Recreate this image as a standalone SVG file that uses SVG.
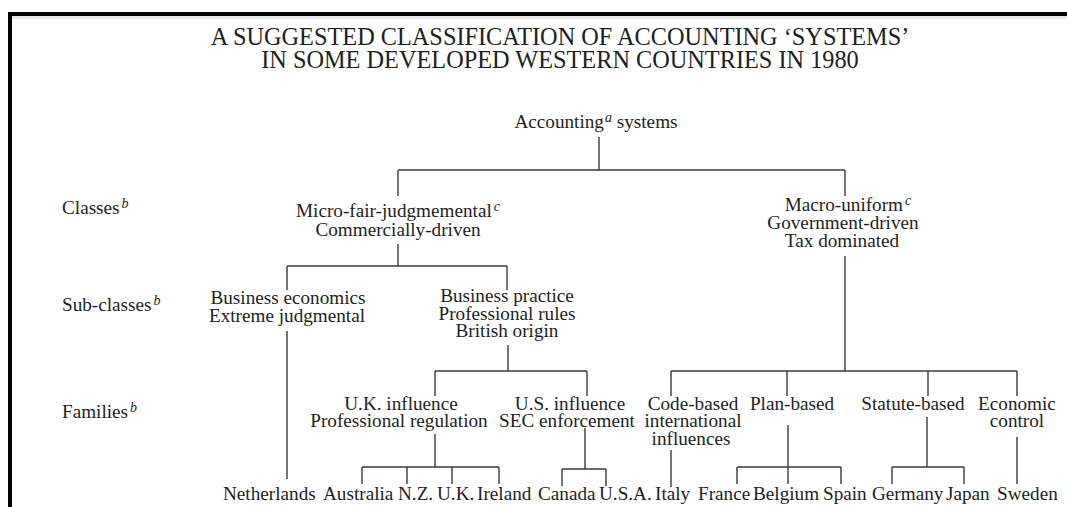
<svg xmlns="http://www.w3.org/2000/svg" width="1067" height="507" viewBox="0 0 1067 507">
  <style>
    text { font-family: "Liberation Serif", "Times New Roman", serif; fill: #1e1e1e; }
    .title { font-size: 24.3px; text-anchor: middle; }
    .t { font-size: 19.2px; text-anchor: middle; }
    .c { font-size: 19.2px; text-anchor: start; }
    .lab { font-size: 19.2px; text-anchor: start; }
    .sup { font-size: 14px; font-style: italic; }
    .conn line { stroke: #3a3a3a; stroke-width: 1.4; fill: none; }
  </style>

  <rect x="0" y="0" width="1067" height="507" fill="#ffffff"/>

  <!-- page frame -->
  <g id="frame">
    <line x1="12" y1="17.5" x2="1067" y2="17.5" stroke="#e6e6e6" stroke-width="3"/>
    <path d="M10,507 V14 H1067" fill="none" stroke="#000" stroke-width="4"/>
  </g>

  <g id="title">
    <text class="title" x="560" y="45">A SUGGESTED CLASSIFICATION OF ACCOUNTING ‘SYSTEMS’</text>
    <text class="title" x="560" y="68">IN SOME DEVELOPED WESTERN COUNTRIES IN 1980</text>
  </g>

  <!-- level labels -->
  <g id="level-labels">
    <text class="lab" x="62" y="214">Classes<tspan class="sup" dx="2" dy="-6">b</tspan></text>
    <text class="lab" x="62" y="311">Sub-classes<tspan class="sup" dx="2" dy="-6">b</tspan></text>
    <text class="lab" x="62" y="418">Families<tspan class="sup" dx="2" dy="-6">b</tspan></text>
  </g>

  <!-- connectors -->
  <g id="connectors" class="conn">
    <!-- root to classes -->
    <line x1="599" y1="137" x2="599" y2="170"/>
    <line x1="398" y1="170" x2="845" y2="170"/>
    <line x1="398" y1="170" x2="398" y2="196"/>
    <line x1="845" y1="170" x2="845" y2="196"/>
    <!-- micro to sub-classes -->
    <line x1="398" y1="244" x2="398" y2="266"/>
    <line x1="287" y1="266" x2="507" y2="266"/>
    <line x1="287" y1="266" x2="287" y2="290"/>
    <line x1="507" y1="266" x2="507" y2="290"/>
    <!-- business economics to Netherlands -->
    <line x1="287" y1="331" x2="287" y2="479"/>
    <!-- business practice to families -->
    <line x1="508" y1="345" x2="508" y2="371"/>
    <line x1="435" y1="371" x2="587" y2="371"/>
    <line x1="435" y1="371" x2="435" y2="396"/>
    <line x1="587" y1="371" x2="587" y2="396"/>
    <!-- macro to families -->
    <line x1="845" y1="256" x2="845" y2="371"/>
    <line x1="671" y1="371" x2="1017" y2="371"/>
    <line x1="671" y1="371" x2="671" y2="396"/>
    <line x1="787" y1="371" x2="787" y2="396"/>
    <line x1="928" y1="371" x2="928" y2="396"/>
    <line x1="1017" y1="371" x2="1017" y2="396"/>
    <!-- U.K. influence -->
    <line x1="435" y1="434" x2="435" y2="467"/>
    <line x1="362" y1="467" x2="499" y2="467"/>
    <line x1="362" y1="467" x2="362" y2="484"/>
    <line x1="407" y1="467" x2="407" y2="484"/>
    <line x1="452" y1="467" x2="452" y2="484"/>
    <line x1="499" y1="467" x2="499" y2="484"/>
    <!-- U.S. influence -->
    <line x1="585" y1="428" x2="585" y2="469"/>
    <line x1="562" y1="469" x2="606" y2="469"/>
    <line x1="562" y1="469" x2="562" y2="486"/>
    <line x1="606" y1="469" x2="606" y2="486"/>
    <!-- code-based -->
    <line x1="671" y1="450" x2="671" y2="487"/>
    <!-- plan-based -->
    <line x1="788" y1="425" x2="788" y2="484"/>
    <line x1="737" y1="467" x2="841" y2="467"/>
    <line x1="737" y1="467" x2="737" y2="484"/>
    <line x1="841" y1="467" x2="841" y2="484"/>
    <!-- statute-based -->
    <line x1="927" y1="417" x2="927" y2="467"/>
    <line x1="892" y1="467" x2="964" y2="467"/>
    <line x1="892" y1="467" x2="892" y2="484"/>
    <line x1="964" y1="467" x2="964" y2="484"/>
    <!-- economic control -->
    <line x1="1017" y1="437" x2="1017" y2="484"/>
  </g>

  <!-- root -->
  <g id="node-root">
    <text class="t" x="596" y="128">Accounting<tspan class="sup" dx="1" dy="-6">a</tspan><tspan dy="6"> systems</tspan></text>
  </g>

  <!-- classes -->
  <g id="node-micro">
    <text class="t" x="398" y="217">Micro-fair-judgmemental<tspan class="sup" dx="2" dy="-6">c</tspan></text>
    <text class="t" x="398" y="236">Commercially-driven</text>
  </g>
  <g id="node-macro">
    <text class="t" x="848" y="211">Macro-uniform<tspan class="sup" dx="2" dy="-6">c</tspan></text>
    <text class="t" x="843" y="229">Government-driven</text>
    <text class="t" x="842" y="247">Tax dominated</text>
  </g>

  <!-- sub-classes -->
  <g id="node-business-economics">
    <text class="t" x="288" y="304">Business economics</text>
    <text class="t" x="287" y="322">Extreme judgmental</text>
  </g>
  <g id="node-business-practice">
    <text class="t" x="507" y="302">Business practice</text>
    <text class="t" x="507" y="320">Professional rules</text>
    <text class="t" x="507" y="337">British origin</text>
  </g>

  <!-- families -->
  <g id="node-uk-influence">
    <text class="t" x="401" y="410">U.K. influence</text>
    <text class="t" x="399" y="427">Professional regulation</text>
  </g>
  <g id="node-us-influence">
    <text class="t" x="570" y="410">U.S. influence</text>
    <text class="t" x="567" y="427">SEC enforcement</text>
  </g>
  <g id="node-code-based">
    <text class="t" x="693" y="410">Code-based</text>
    <text class="t" x="693" y="427">international</text>
    <text class="t" x="691" y="445">influences</text>
  </g>
  <g id="node-plan-based">
    <text class="t" x="792" y="410">Plan-based</text>
  </g>
  <g id="node-statute-based">
    <text class="t" x="913" y="410">Statute-based</text>
  </g>
  <g id="node-economic-control">
    <text class="t" x="1017" y="410">Economic</text>
    <text class="t" x="1017" y="427">control</text>
  </g>

  <!-- countries -->
  <g id="node-netherlands"><text class="c" x="223" y="500">Netherlands</text></g>
  <g id="node-australia"><text class="c" x="323" y="500">Australia</text></g>
  <g id="node-nz"><text class="c" x="398" y="500">N.Z.</text></g>
  <g id="node-uk"><text class="c" x="437" y="500">U.K.</text></g>
  <g id="node-ireland"><text class="c" x="477" y="500">Ireland</text></g>
  <g id="node-canada"><text class="c" x="538" y="500">Canada</text></g>
  <g id="node-usa"><text class="c" x="599" y="500">U.S.A.</text></g>
  <g id="node-italy"><text class="c" x="655" y="500">Italy</text></g>
  <g id="node-france"><text class="c" x="698" y="500">France</text></g>
  <g id="node-belgium"><text class="c" x="753" y="500">Belgium</text></g>
  <g id="node-spain"><text class="c" x="823" y="500">Spain</text></g>
  <g id="node-germany"><text class="c" x="872" y="500">Germany</text></g>
  <g id="node-japan"><text class="c" x="946" y="500">Japan</text></g>
  <g id="node-sweden"><text class="c" x="997" y="500">Sweden</text></g>
</svg>
